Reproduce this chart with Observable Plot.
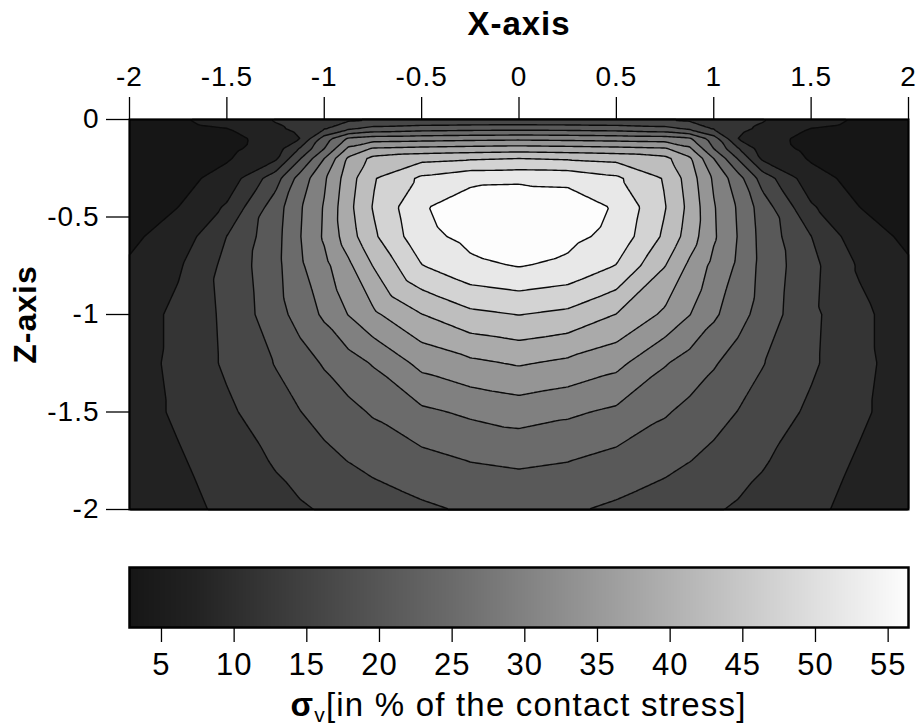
<!DOCTYPE html>
<html>
<head>
<meta charset="utf-8">
<script src="https://cdn.jsdelivr.net/npm/d3@7"></script>
<script src="https://cdn.jsdelivr.net/npm/@observablehq/plot@0.6"></script>
<style>
  body { margin: 0; background: #fff; }
  #chart { width: 922px; }
  #caption {
    width: 779px; padding-left: 129px; padding-right: 14px;
    text-align: center; font-family: "Liberation Sans", Arial, sans-serif;
    font-size: 33px; line-height: 36px; letter-spacing: 1.2px; color: #000;
  }
  #caption sub { font-size: 21px; line-height: 0; vertical-align: -6px; }
</style>
</head>
<body>
<div id="chart"></div>
<script>
// ---- tick labels / axes ----
const xTicks = [-2, -1.5, -1, -0.5, 0, 0.5, 1, 1.5, 2];
const zTicks = [0, -0.5, -1, -1.5, -2];
const barTicks = [5, 10, 15, 20, 25, 30, 35, 40, 45, 50, 55];
const barRange = [2.8, 56.4];

// ---- contour levels (sigma_v, % of contact stress) ----
const levels = [2.8, 6.9, 11.05, 15.15, 19.3, 23.4, 27.5, 31.65, 35.8, 39.9, 44.0, 48.15, 52.3];

// ---- sampling grid ----
const gridX = [-2, -1.75, -1.5, -1.25, -1.125, -1, -0.875, -0.75, -0.5, -0.25, 0,
               0.25, 0.5, 0.75, 0.875, 1, 1.125, 1.25, 1.5, 1.75, 2];
const gridZ = [0, -0.05, -0.1, -0.15, -0.2, -0.3, -0.45, -0.6, -0.75, -1, -1.25, -1.5, -1.75, -2];

// ---- sigma_v values, one row per depth ----
const sv_z000 = [3.0, 6.3, 8.9, 11.4, 12.5, 13.5, 14.3, 15.0, 15.2, 15.4, 15.5, 15.4, 15.2, 15.0, 14.3, 13.5, 12.5, 11.4, 8.9, 6.3, 3.0];
const sv_z005 = [3.0, 5.4, 6.7, 10.3, 12.0, 15.0, 19.0, 21.0, 22.0, 22.4, 22.6, 22.4, 22.0, 21.0, 19.0, 15.0, 12.0, 10.3, 6.7, 5.4, 3.0];
const sv_z010 = [3.0, 4.8, 5.8, 8.3, 11.0, 21.5, 28.5, 29.8, 30.2, 30.6, 30.9, 30.6, 30.2, 29.8, 28.5, 21.5, 11.0, 8.3, 5.8, 4.8, 3.0];
const sv_z015 = [3.1, 4.6, 5.9, 9.0, 15.5, 23.4, 32.5, 36.3, 37.0, 37.5, 37.9, 37.5, 37.0, 36.3, 32.5, 23.4, 15.5, 9.0, 5.9, 4.6, 3.1];
const sv_z020 = [3.3, 4.8, 6.5, 10.3, 19.0, 27.5, 36.5, 41.0, 42.8, 43.5, 44.0, 43.5, 42.8, 41.0, 36.5, 27.5, 19.0, 10.3, 6.5, 4.8, 3.3];
const sv_z030 = [4.0, 5.6, 8.3, 17.5, 25.0, 31.0, 38.0, 43.6, 48.9, 51.0, 51.2, 51.0, 48.9, 43.6, 38.0, 31.0, 25.0, 17.5, 8.3, 5.6, 4.0];
const sv_z045 = [5.2, 6.9, 11.6, 21.5, 27.0, 32.0, 38.8, 44.2, 51.8, 55.0, 56.4, 55.0, 51.8, 44.2, 38.8, 32.0, 27.0, 21.5, 11.6, 6.9, 5.2];
const sv_z060 = [6.2, 8.5, 15.2, 22.0, 27.3, 32.2, 38.0, 43.2, 51.0, 53.5, 55.0, 53.5, 51.0, 43.2, 38.0, 32.2, 27.3, 22.0, 15.2, 8.5, 6.2];
const sv_z075 = [7.3, 10.5, 16.3, 22.2, 26.8, 30.5, 35.0, 40.0, 48.0, 51.4, 52.5, 51.4, 48.0, 40.0, 35.0, 30.5, 26.8, 22.2, 16.3, 10.5, 7.3];
const sv_z100 = [8.6, 12.1, 16.0, 21.7, 25.0, 28.2, 31.8, 35.0, 39.8, 43.0, 44.1, 43.0, 39.8, 35.0, 31.8, 28.2, 25.0, 21.7, 16.0, 12.1, 8.6];
const sv_z125 = [9.1, 12.1, 15.8, 19.5, 21.6, 23.8, 25.8, 27.8, 32.8, 34.9, 36.2, 34.9, 32.8, 27.8, 25.8, 23.8, 21.6, 19.5, 15.8, 12.1, 9.1];
const sv_z150 = [9.1, 11.7, 14.4, 17.6, 19.2, 20.8, 22.3, 23.8, 26.7, 28.2, 29.3, 28.2, 26.7, 23.8, 22.3, 20.8, 19.2, 17.6, 14.4, 11.7, 9.1];
const sv_z175 = [8.9, 10.6, 13.1, 15.5, 16.8, 18.2, 19.4, 20.6, 22.1, 23.5, 24.0, 23.5, 22.1, 20.6, 19.4, 18.2, 16.8, 15.5, 13.1, 10.6, 8.9];
const sv_z200 = [8.5, 9.6, 12.0, 13.9, 14.7, 15.5, 16.2, 16.9, 18.6, 19.8, 20.5, 19.8, 18.6, 16.9, 16.2, 15.5, 14.7, 13.9, 12.0, 9.6, 8.5];

const rows = [sv_z000, sv_z005, sv_z010, sv_z015, sv_z020, sv_z030, sv_z045,
              sv_z060, sv_z075, sv_z100, sv_z125, sv_z150, sv_z175, sv_z200];
const points = rows.flatMap((row, j) => row.map((v, i) => ({x: gridX[i], z: gridZ[j], v})));

// grey ramp: band index spread over the colour map
const ramp = ["#161616", "#222222", "#6b6b6b", "#fdfdfd"];
const bandDomain = [levels[0], levels[1], levels[5], levels[levels.length - 1]];
const span = barRange[1] - barRange[0];
const barDomain = [barRange[0], barRange[0] + span / 12, barRange[0] + 5 * span / 12, barRange[1]];

const fontFamily = "'Liberation Sans', Arial, Helvetica, sans-serif";

const main = Plot.plot({
  width: 922, height: 540,
  marginLeft: 129, marginRight: 14, marginTop: 119, marginBottom: 31,
  style: {fontFamily, fontSize: "28px", background: "white", overflow: "visible", letterSpacing: "1px"},
  x: {domain: [-2, 2], label: null},
  y: {domain: [-2, 0], label: null},
  color: {type: "linear", domain: bandDomain, range: ramp},
  marks: [
    Plot.contour(points, {
      x: "x", y: "z", fill: "v",
      thresholds: levels, interpolate: "barycentric",
      stroke: "#0a0a0a", strokeWidth: 1.4
    }),
    Plot.frame({stroke: "#000", strokeWidth: 2}),
    Plot.axisX({anchor: "top", ticks: xTicks, tickSize: 23, tickPadding: 11, fontSize: 28,
                tickFormat: d => String(d), label: null, strokeWidth: 1.3}),
    Plot.axisY({anchor: "left", ticks: zTicks, tickSize: 23, tickPadding: 7, fontSize: 28,
                tickFormat: d => String(d), label: null, strokeWidth: 1.3}),
    Plot.text(["X-axis"], {frameAnchor: "top", lineAnchor: "middle", textAnchor: "middle",
                           dy: -95, fontSize: 33, fontWeight: "bold"}),
    Plot.text(["Z-axis"], {frameAnchor: "left", lineAnchor: "middle", textAnchor: "middle",
                           dx: -104, rotate: -90, fontSize: 32, fontWeight: "bold"})
  ]
});

const bar = Plot.plot({
  width: 922, height: 147,
  marginLeft: 129, marginRight: 14, marginTop: 27, marginBottom: 60,
  style: {fontFamily, fontSize: "31px", background: "white", overflow: "visible", letterSpacing: "1px"},
  x: {domain: barRange, label: null},
  y: {domain: [0, 1], axis: null},
  color: {type: "linear", domain: barDomain, range: ramp},
  marks: [
    Plot.raster({fill: (x, y) => x, x1: barRange[0], x2: barRange[1], y1: 0, y2: 1}),
    Plot.frame({stroke: "#000", strokeWidth: 2.5}),
    Plot.axisX({anchor: "bottom", ticks: barTicks, tickSize: 15, tickPadding: 10, fontSize: 31,
                tickFormat: d => String(d), label: null, strokeWidth: 1.3})
  ]
});

const chart = document.getElementById("chart");
chart.appendChild(main);
chart.appendChild(bar);
const cap = document.createElement("div");
cap.id = "caption";
cap.innerHTML = "<b>σ</b><sub>v</sub>[in % of the contact stress]";
chart.appendChild(cap);
</script>
</body>
</html>
